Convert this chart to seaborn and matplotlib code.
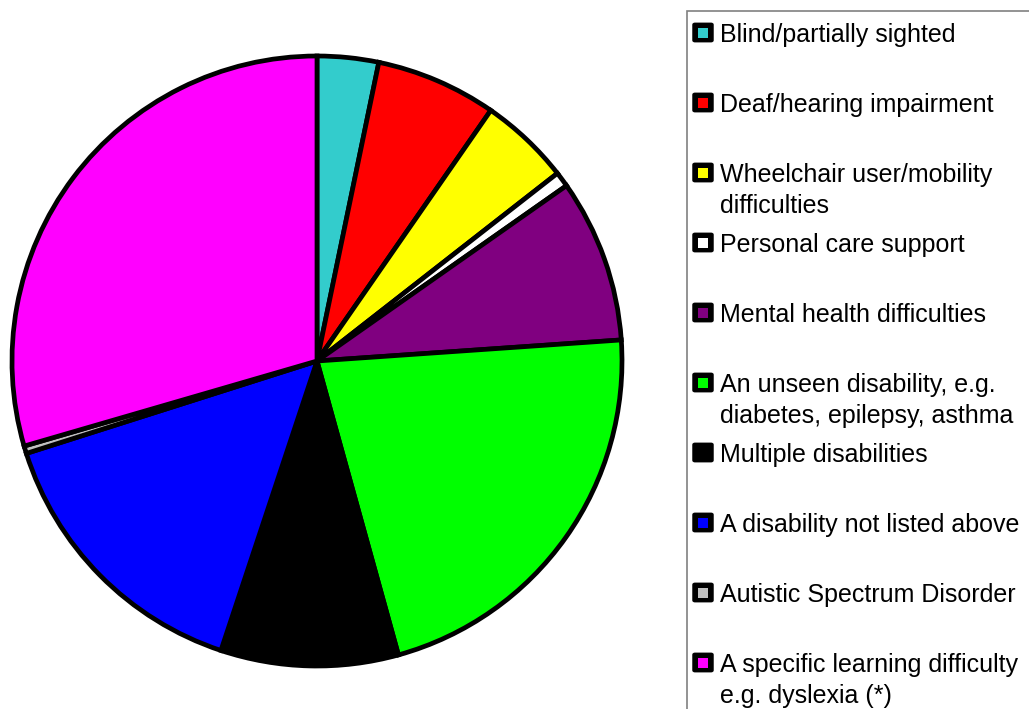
import matplotlib
matplotlib.use("Agg")
import matplotlib.pyplot as plt
from matplotlib.patches import Rectangle, FancyBboxPatch
import seaborn as sns

categories = [
    "Blind/partially sighted",
    "Deaf/hearing impairment",
    "Wheelchair user/mobility\ndifficulties",
    "Personal care support",
    "Mental health difficulties",
    "An unseen disability, e.g.\ndiabetes, epilepsy, asthma",
    "Multiple disabilities",
    "A disability not listed above",
    "Autistic Spectrum Disorder",
    "A specific learning difficulty\ne.g. dyslexia (*)",
]
values = [3.25, 6.4, 4.8, 0.8, 8.65, 21.8, 9.4, 15.0, 0.4, 29.5]
colors = ["#33CCCC", "#FF0000", "#FFFF00", "#FFFFFF", "#800080",
          "#00FF00", "#000000", "#0000FF", "#C0C0C0", "#FF00FF"]

sns.set_theme(style="white")
plt.rcParams["font.family"] = ["Liberation Sans", "DejaVu Sans"]

W, H = 1029, 709
fig = plt.figure(figsize=(W / 100, H / 100), dpi=100)
fig.patch.set_facecolor("white")

cx, cy, r = 317, 361, 305
ax = fig.add_axes([(cx - r) / W, (H - cy - r) / H, 2 * r / W, 2 * r / H])
ax.pie(values, colors=colors, startangle=90, counterclock=False,
       wedgeprops=dict(edgecolor="black", linewidth=3.4, joinstyle="miter"))
ax.set_xlim(-1, 1)
ax.set_ylim(-1, 1)
ax.set_aspect("equal")
ax.axis("off")

def fx(px):
    return px / W

def fy(py):
    return 1 - py / H

# legend frame
fig.patches.append(Rectangle((fx(687), fy(720)), fx(1040) - fx(687), fy(11) - fy(720),
                             transform=fig.transFigure, facecolor="none",
                             edgecolor="#808080", linewidth=1.2))

row0, step, lstep = 32.5, 70, 31
for i, (lab, col) in enumerate(zip(categories, colors)):
    yc = row0 + step * i
    x0, x1 = 694, 712
    h = 17
    fig.patches.append(FancyBboxPatch((fx(x0), fy(yc + h / 2)), fx(x1 - x0), h / H,
                                      boxstyle="round,pad=0.001,rounding_size=0.002",
                                      transform=fig.transFigure, facecolor="black",
                                      edgecolor="black", linewidth=1.0))
    inner = 10
    fig.patches.append(Rectangle((fx(703 - inner / 2), fy(yc + inner / 2)), fx(inner), inner / H,
                                 transform=fig.transFigure, facecolor=col,
                                 edgecolor="none"))
    for k, line in enumerate(lab.split("\n")):
        fig.text(fx(720), fy(yc + k * lstep), line, fontsize=18, color="black",
                 ha="left", va="center_baseline")

fig.savefig("out.png", dpi=100, facecolor="white")
